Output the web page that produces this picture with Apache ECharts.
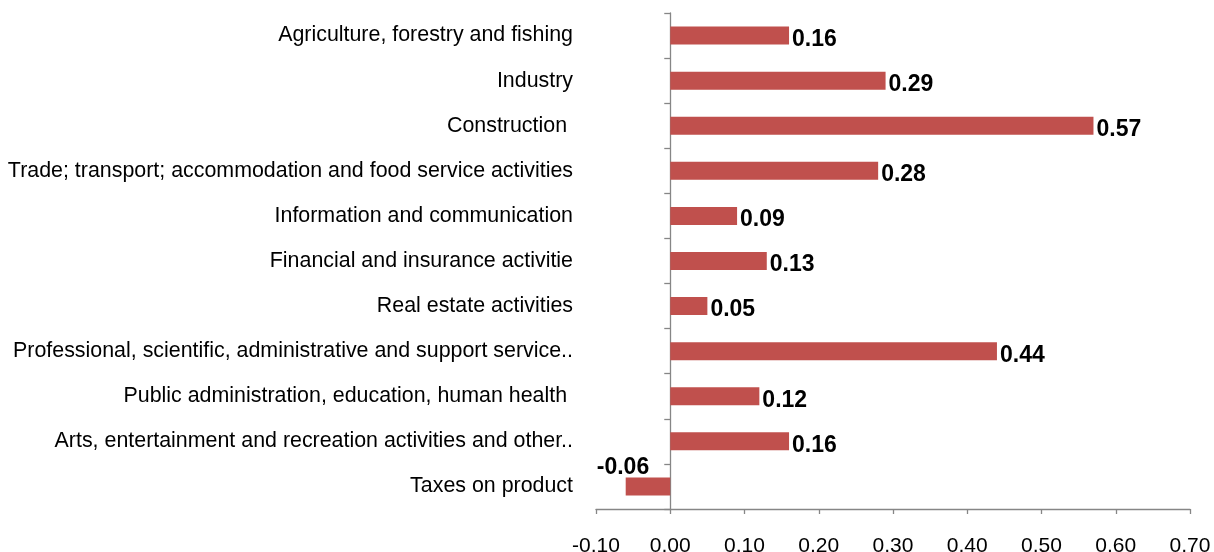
<!DOCTYPE html>
<html>
<head>
<meta charset="utf-8">
<script src="https://cdn.jsdelivr.net/npm/echarts@6/dist/echarts.min.js"></script>
<style>
  html, body { margin: 0; padding: 0; background: #ffffff; }
  #chart { width: 1214px; height: 552px; }
</style>
</head>
<body>
<div id="chart"></div>
<script>
// Contribution by branch of activity
const categories = [
  'Agriculture, forestry and fishing',
  'Industry',
  'Construction ',
  'Trade; transport; accommodation and food service activities',
  'Information and communication',
  'Financial and insurance activitie',
  'Real estate activities',
  'Professional, scientific, administrative and support service..',
  'Public administration, education, human health ',
  'Arts, entertainment and recreation activities and other..',
  'Taxes on product'
];
const values = [0.16, 0.29, 0.57, 0.28, 0.09, 0.13, 0.05, 0.44, 0.12, 0.16, -0.06];

const axisMin = -0.1;
const axisMax = 0.7;
const axisStep = 0.1;

const FONT = "'Liberation Sans', Arial, sans-serif";
const AXIS_GREY = '#868686';
const BAR_RED = '#C0504D';

const chart = echarts.init(document.getElementById('chart'), null, { renderer: 'canvas' });

// Negative bars carry their value label above the bar end, positive ones to the right
const barData = values.map(v => v < 0
  ? { value: v, label: { position: 'top', distance: 0, offset: [-25, 2] } }
  : { value: v });

chart.setOption({
  animation: false,
  backgroundColor: '#ffffff',
  grid: {
    left: 596, right: 24, top: 13, bottom: 43,
    containLabel: false,
    outerBoundsMode: 'none'
  },
  xAxis: {
    type: 'value',
    min: axisMin,
    max: axisMax,
    interval: axisStep,
    splitLine: { show: false },
    axisLine: { show: true, onZero: false, lineStyle: { color: AXIS_GREY, width: 1.3 } },
    axisTick: { show: true, length: 5, lineStyle: { color: AXIS_GREY, width: 1.3 } },
    axisLabel: {
      margin: 27,
      fontSize: 21,
      fontFamily: FONT,
      color: '#000000',
      showMinLabel: true,
      showMaxLabel: true,
      formatter: v => v.toFixed(2).replace('.', ',')
    }
  },
  yAxis: [
    {
      // category names, placed left of the plot
      type: 'category',
      inverse: true,
      data: categories,
      axisLine: { show: false, onZero: false },
      axisTick: { show: false },
      axisLabel: {
        margin: 23,
        fontSize: 21.4,
        fontFamily: FONT,
        color: '#000000',
        padding: [3, 0, 0, 0]
      }
    },
    {
      // vertical axis line with category ticks, drawn at zero
      type: 'category',
      inverse: true,
      position: 'left',
      data: categories,
      axisLine: { show: true, onZero: true, lineStyle: { color: AXIS_GREY, width: 1.3 } },
      axisTick: { show: true, length: 6, lineStyle: { color: AXIS_GREY, width: 1.3 } },
      axisLabel: { show: false }
    }
  ],
  series: [{
    type: 'bar',
    yAxisIndex: 0,
    data: barData,
    barWidth: 18,
    itemStyle: { color: BAR_RED },
    label: {
      show: true,
      position: 'right',
      distance: 3,
      offset: [0, 4],
      fontSize: 23,
      fontWeight: 'bold',
      fontFamily: FONT,
      color: '#000000',
      formatter: p => p.value.toFixed(2)
    }
  }]
});
</script>
</body>
</html>
